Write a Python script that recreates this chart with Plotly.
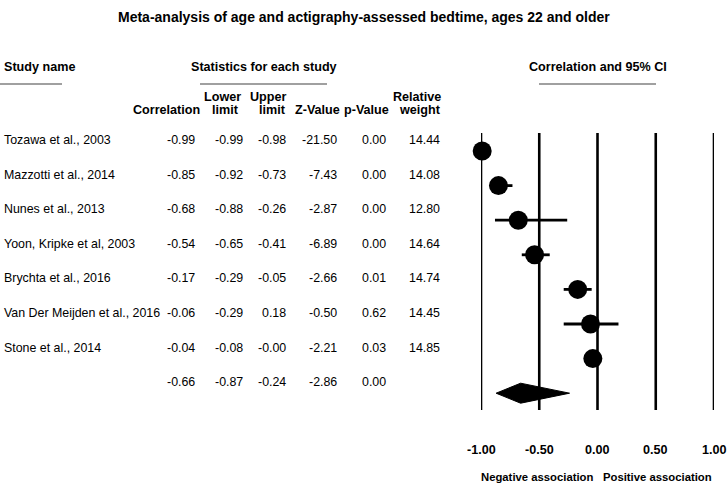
import plotly.graph_objects as go

# ---------------- data ----------------
studies = ["Tozawa et al., 2003", "Mazzotti et al., 2014", "Nunes et al., 2013",
           "Yoon, Kripke et al, 2003", "Brychta et al., 2016",
           "Van Der Meijden et al., 2016", "Stone et al., 2014"]
corr = [-0.99, -0.85, -0.68, -0.54, -0.17, -0.06, -0.04]
lower = [-0.99, -0.92, -0.88, -0.65, -0.29, -0.29, -0.08]
upper = [-0.98, -0.73, -0.26, -0.41, -0.05, 0.18, -0.0]
zval = [-21.50, -7.43, -2.87, -6.89, -2.66, -0.50, -2.21]
pval = [0.00, 0.00, 0.00, 0.00, 0.01, 0.62, 0.03]
weight = [14.44, 14.08, 12.80, 14.64, 14.74, 14.45, 14.85]

summary_corr = -0.66
summary_lower = -0.87
summary_upper = -0.24
summary_z = -2.86
summary_p = 0.00

axis_ticks = [-1.0, -0.5, 0.0, 0.5, 1.0]
axis_ticktext = ["-1.00", "-0.50", "0.00", "0.50", "1.00"]

# ---------------- layout helpers ----------------
W, H = 727, 486
FONT = "Liberation Sans, Arial, sans-serif"
ROW0, ROWSTEP = 151.0, 34.6
PLOT_BOTTOM = 410.0
TEXT_OFF = -11.0 / ROWSTEP


def px(x):
    return x / W


def py(y):
    return 1 - y / H


fig = go.Figure()

# study markers with CIs
n = len(studies)
rows = list(range(n))
fig.add_trace(go.Scatter(
    x=corr, y=rows, mode="markers", cliponaxis=False,
    marker=dict(size=19, color="black", line=dict(width=0)),
    error_x=dict(type="data", symmetric=False,
                 array=[u - c for u, c in zip(upper, corr)],
                 arrayminus=[c - l for c, l in zip(corr, lower)],
                 thickness=2.8, width=0, color="black"),
    hoverinfo="skip",
))

# summary diamond
srow = n
h = 10.0 / ROWSTEP
fig.add_trace(go.Scatter(
    x=[summary_lower, summary_corr, summary_upper, summary_corr, summary_lower],
    y=[srow, srow - h, srow, srow + h, srow],
    mode="lines", fill="toself", fillcolor="black",
    line=dict(color="black", width=1), cliponaxis=False, hoverinfo="skip",
))

shapes = []
for t in axis_ticks:
    shapes.append(dict(type="line", xref="x", yref="y domain", x0=t, x1=t,
                       y0=0, y1=(PLOT_BOTTOM - 133) / PLOT_BOTTOM,
                       line=dict(color="black", width=2.6), layer="below"))
# header underlines
for x0, x1 in [(0, 62), (200, 327), (539, 656)]:
    shapes.append(dict(type="line", xref="paper", yref="paper",
                       x0=px(x0), x1=px(x1), y0=py(84), y1=py(84),
                       line=dict(color="#808080", width=1.5)))

ann = []


def add(text, x, y, anchor="left", size=12.6, bold=False, yref="paper"):
    ann.append(dict(text=("<b>%s</b>" % text) if bold else text,
                    x=px(x), y=(py(y) if yref == "paper" else y),
                    xref="paper", yref=yref, xanchor=anchor, yanchor="middle",
                    showarrow=False, font=dict(family=FONT, size=size, color="black")))


# title
ann.append(dict(text="<b>Meta-analysis of age and actigraphy-assessed bedtime, ages 22 and older</b>",
                x=px(363.5), y=py(17), xref="paper", yref="paper", xanchor="center",
                yanchor="middle", showarrow=False,
                font=dict(family=FONT, size=14, color="black")))

add("Study name", 2, 67, bold=True)
add("Statistics for each study", 264, 67, anchor="center", bold=True)
add("Correlation and 95% CI", 597.5, 67, anchor="center", bold=True)

add("Correlation", 202, 110, anchor="right", bold=True)
add("Lower", 243, 97, anchor="right", bold=True)
add("limit", 241, 110, anchor="right", bold=True)
add("Upper", 288, 97, anchor="right", bold=True)
add("limit", 288, 110, anchor="right", bold=True)
add("Z-Value", 342, 110, anchor="right", bold=True)
add("p-Value", 391, 110, anchor="right", bold=True)
add("Relative", 443, 97, anchor="right", bold=True)
add("weight", 443, 110, anchor="right", bold=True)

col_right = [197, 245, 288, 339, 388, 442]
for i in range(n):
    y = i + TEXT_OFF
    add(studies[i], 2, y, yref="y", size=12.4)
    vals = [corr[i], lower[i], upper[i], zval[i], pval[i], weight[i]]
    for v, xr in zip(vals, col_right):
        add(f"{v:.2f}", xr, y, anchor="right", yref="y", size=12.4)

ys = srow + TEXT_OFF
for v, xr in zip([summary_corr, summary_lower, summary_upper, summary_z, summary_p], col_right):
    add(f"{v:.2f}", xr, ys, anchor="right", yref="y", size=12.4)

# axis tick labels
for t, lab in zip(axis_ticks, axis_ticktext):
    ann.append(dict(text="<b>%s</b>" % lab, x=t, y=py(450), xref="x", yref="paper",
                    xanchor="center", yanchor="middle", showarrow=False,
                    font=dict(family=FONT, size=12.6, color="black")))

add("Negative association", 595, 477, anchor="right", bold=True, size=11.3)
add("Positive association", 601, 477, anchor="left", bold=True, size=11.3)

fig.update_layout(
    width=W, height=H, margin=dict(l=0, r=0, t=0, b=0),
    paper_bgcolor="white", plot_bgcolor="white", showlegend=False,
    xaxis=dict(domain=[px(481), px(714)], range=[-1, 1], visible=False, fixedrange=True),
    yaxis=dict(domain=[py(PLOT_BOTTOM), 1],
               range=[(PLOT_BOTTOM - ROW0) / ROWSTEP, -ROW0 / ROWSTEP],
               visible=False, fixedrange=True),
    shapes=shapes, annotations=ann,
)

fig.write_html("out.html", config={"displayModeBar": False},
               post_script="document.body.style.margin='0px';document.body.style.overflow='hidden';")
